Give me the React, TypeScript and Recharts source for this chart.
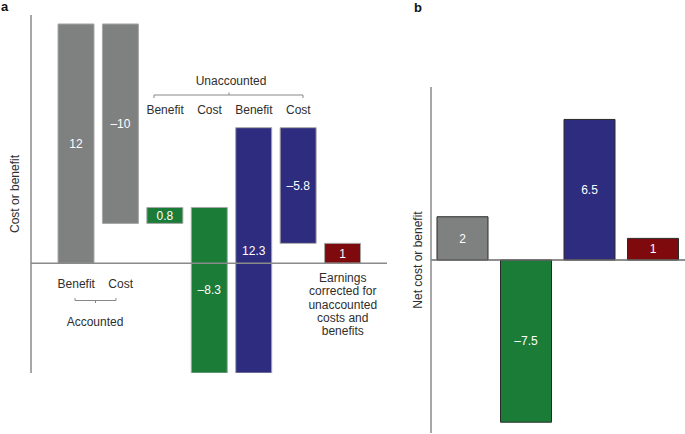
import { Bar, BarChart, Cell, LabelList, ReferenceLine, XAxis, YAxis } from "recharts";

// panel a: waterfall
const stepIds = ["accBenefit", "accCost", "unaccBenefit1", "unaccCost1", "unaccBenefit2", "unaccCost2", "earnings"];
const stepValues = [12, -10, 0.8, -8.3, 12.3, -5.8];
const stepText = ["12", "–10", "0.8", "–8.3", "12.3", "–5.8", "1"];
const stepColors = ["#7f8080", "#7f8080", "#1b7c37", "#1b7c37", "#2d2c7e", "#2d2c7e", "#7e0a0d"];
const topTicks = ["", "", "Benefit", "Cost", "Benefit", "Cost", ""];
const bottomTicks = ["Benefit", "Cost", "", "", "", "", ""];
const earningsLines = ["Earnings", "corrected for", "unaccounted", "costs and", "benefits"];

// panel b: net values
const netIds = ["accounted", "unaccounted1", "unaccounted2", "earnings"];
const netValues = [2, -7.5, 6.5, 1];
const netText = ["2", "–7.5", "6.5", "1"];
const netColors = ["#7f8080", "#1b7c37", "#2d2c7e", "#7e0a0d"];

const FONT = '"Liberation Sans", Arial, Helvetica, sans-serif';
const INK = "#2e2e2e";

let running = 0;
const stepData = stepIds.map((id, i) => {
  let range: [number, number];
  if (i < stepValues.length) {
    const next = running + stepValues[i];
    range = [Math.min(running, next), Math.max(running, next)];
    running = next;
  } else {
    range = [0, running];
  }
  return { id, range, label: stepText[i] };
});

const netData = netIds.map((id, i) => ({ id, value: netValues[i], label: netText[i] }));

function StepTick(props: any) {
  const { x, index } = props;
  if (index === stepIds.length - 1) {
    return (
      <text x={x} y={282} textAnchor="middle" fontSize={12} fill={INK} fontFamily={FONT}>
        {earningsLines.map((line, k) => (
          <tspan key={k} x={x} dy={k === 0 ? 0 : 13.3}>
            {line}
          </tspan>
        ))}
      </text>
    );
  }
  const top = topTicks[index];
  const bottom = bottomTicks[index];
  return (
    <g>
      {top && (
        <text x={x} y={114} textAnchor="middle" fontSize={12} fill={INK} fontFamily={FONT}>
          {top}
        </text>
      )}
      {bottom && (
        <text x={x} y={288} textAnchor="middle" fontSize={12} fill={INK} fontFamily={FONT}>
          {bottom}
        </text>
      )}
    </g>
  );
}

export default function App() {
  return (
    <div style={{ position: "absolute", left: 0, top: 0, width: 685, height: 434, fontFamily: FONT, background: "#fff" }}>
      <div style={{ position: "absolute", left: 0, top: 0 }}>
        <BarChart width={400} height={434} data={stepData} margin={{ top: 15, right: 13, bottom: 31, left: 30 }}>
          <XAxis
            dataKey="id"
            type="category"
            height={30}
            axisLine={false}
            tickLine={false}
            interval={0}
            padding={{ left: 23, right: 22 }}
            tick={<StepTick />}
          />
          <YAxis
            type="number"
            domain={[-5.5, 12.45]}
            allowDataOverflow
            width={1}
            tick={false}
            tickLine={false}
            axisLine={{ stroke: "#8a8a8a", strokeWidth: 1.5 }}
          />
          <ReferenceLine y={0} stroke="#8a8a8a" strokeWidth={1.5} />
          <Bar dataKey="range" barSize={36} stroke="#a8a8a8" strokeWidth={1} isAnimationActive={false}>
            {stepData.map((d, i) => (
              <Cell key={d.id} fill={stepColors[i]} />
            ))}
            <LabelList dataKey="label" position="center" fill="#fff" fontSize={12} fontFamily={FONT} />
          </Bar>
        </BarChart>
      </div>

      <div style={{ position: "absolute", left: 400, top: 0 }}>
        <BarChart width={285} height={434} data={netData} margin={{ top: 87, right: 0, bottom: 1, left: 30 }}>
          <XAxis dataKey="id" type="category" hide />
          <YAxis
            type="number"
            domain={[-8, 8]}
            allowDataOverflow
            width={1}
            tick={false}
            tickLine={false}
            axisLine={{ stroke: "#8a8a8a", strokeWidth: 1.5 }}
          />
          <ReferenceLine y={0} stroke="#6a6a6a" strokeWidth={1.5} />
          <Bar dataKey="value" barSize={51} stroke="#2a2a2a" strokeWidth={1} isAnimationActive={false}>
            {netData.map((d, i) => (
              <Cell key={d.id} fill={netColors[i]} />
            ))}
            <LabelList dataKey="label" position="center" fill="#fff" fontSize={12} fontFamily={FONT} />
          </Bar>
        </BarChart>
      </div>

      {/* annotations */}
      <svg width={685} height={434} style={{ position: "absolute", left: 0, top: 0, pointerEvents: "none" }}>
        <text x={1} y={11} fontSize={13} fontWeight="bold" fill="#111" fontFamily={FONT}>a</text>
        <text x={414} y={12} fontSize={13} fontWeight="bold" fill="#111" fontFamily={FONT}>b</text>

        <text x={231} y={85} textAnchor="middle" fontSize={12} fill={INK} fontFamily={FONT}>Unaccounted</text>
        <path d="M154,98 V95 H303 V98 M229,95 V92.5" fill="none" stroke="#888" strokeWidth={1} />

        <path d="M75,298 V300.5 H116 V298 M95.5,300.5 V303" fill="none" stroke="#888" strokeWidth={1} />
        <text x={95} y={326} textAnchor="middle" fontSize={12} fill={INK} fontFamily={FONT}>Accounted</text>

        <text
          x={15}
          y={194}
          transform="rotate(-90 15 194)"
          textAnchor="middle"
          dominantBaseline="central"
          fontSize={12}
          fill={INK}
          fontFamily={FONT}
        >
          Cost or benefit
        </text>
        <text
          x={418}
          y={260}
          transform="rotate(-90 418 260)"
          textAnchor="middle"
          dominantBaseline="central"
          fontSize={12}
          fill={INK}
          fontFamily={FONT}
        >
          Net cost or benefit
        </text>
      </svg>
    </div>
  );
}
